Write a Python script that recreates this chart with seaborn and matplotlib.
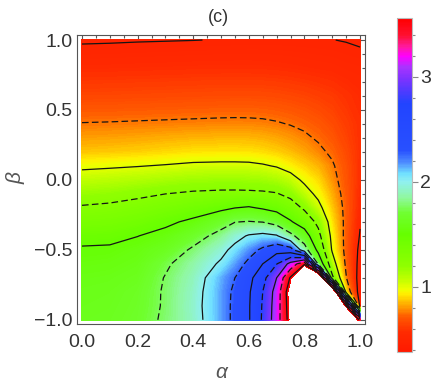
import numpy as np
import seaborn as sns
import matplotlib
matplotlib.use("Agg")
import matplotlib.pyplot as plt
from matplotlib.colors import LinearSegmentedColormap, Normalize
from matplotlib.cm import ScalarMappable
from matplotlib.ticker import MultipleLocator

sns.set_style("white")
plt.rcParams['font.family'] = ['Liberation Sans', 'DejaVu Sans']
plt.rcParams['axes.unicode_minus'] = True
plt.rcParams['lines.dashed_pattern'] = [5.3, 2.6]

# grid
alpha = [0.0, 0.1, 0.2, 0.3, 0.4, 0.5, 0.55, 0.6, 0.65, 0.7, 0.75, 0.8, 0.85, 0.9, 0.95, 1.0]
beta = [1.0, 0.8, 0.6, 0.4, 0.2, 0.1, 0.0, -0.1, -0.2, -0.3, -0.4, -0.5, -0.6, -0.7, -0.8, -0.9, -1.0]

# one list per alpha value, going down in beta (values above 3.56 are left blank)
z_a000 = [0.49, 0.56, 0.65, 0.755, 0.868, 0.973, 1.07, 1.17, 1.268, 1.357, 1.446, 1.52, 1.55, 1.58, 1.6, 1.61, 1.62]
z_a010 = [0.492, 0.562, 0.652, 0.758, 0.875, 0.983, 1.085, 1.187, 1.284, 1.37, 1.455, 1.525, 1.56, 1.59, 1.61, 1.62, 1.63]
z_a020 = [0.495, 0.565, 0.655, 0.762, 0.885, 0.995, 1.105, 1.217, 1.314, 1.405, 1.497, 1.56, 1.59, 1.62, 1.65, 1.66, 1.67]
z_a030 = [0.497, 0.567, 0.658, 0.766, 0.90, 1.01, 1.13, 1.25, 1.357, 1.465, 1.551, 1.628, 1.72, 1.76, 1.77, 1.77, 1.78]
z_a040 = [0.499, 0.57, 0.661, 0.77, 0.915, 1.028, 1.152, 1.274, 1.404, 1.536, 1.663, 1.78, 1.86, 1.9, 1.92, 1.93, 1.92]
z_a050 = [0.502, 0.572, 0.664, 0.774, 0.92, 1.033, 1.16, 1.284, 1.459, 1.663, 1.82, 1.94, 2.03, 2.13, 2.15, 2.15, 2.15]
z_a055 = [0.503, 0.572, 0.665, 0.775, 0.92, 1.033, 1.16, 1.285, 1.499, 1.745, 1.93, 2.06, 2.15, 2.25, 2.29, 2.3, 2.3]
z_a060 = [0.504, 0.572, 0.665, 0.774, 0.918, 1.03, 1.155, 1.283, 1.521, 1.76, 2.02, 2.17, 2.3, 2.43, 2.47, 2.48, 2.48]
z_a065 = [0.505, 0.57, 0.663, 0.77, 0.905, 1.015, 1.146, 1.277, 1.48, 1.745, 2.055, 2.29, 2.5, 2.67, 2.75, 2.77, 2.78]
z_a070 = [0.505, 0.567, 0.658, 0.76, 0.885, 0.99, 1.12, 1.262, 1.433, 1.667, 2.02, 2.41, 2.74, 3.0, 3.1, 3.12, 3.13]
z_a075 = [0.504, 0.562, 0.65, 0.745, 0.855, 0.94, 1.064, 1.198, 1.35, 1.52, 1.81, 2.35, 3.08, 3.53, 3.68, 3.65, 3.62]
z_a080 = [0.503, 0.556, 0.64, 0.725, 0.82, 0.89, 0.97, 1.07, 1.22, 1.39, 1.61, 1.85, 3.45, 4.5, 4.5, 4.5, 4.5]
z_a085 = [0.502, 0.55, 0.625, 0.70, 0.775, 0.84, 0.9, 0.96, 1.05, 1.2, 1.31, 1.44, 1.7, 4.5, 4.5, 4.5, 4.5]
z_a090 = [0.501, 0.545, 0.61, 0.665, 0.73, 0.765, 0.79, 0.83, 0.87, 0.91, 0.95, 0.98, 1.1, 1.3, 4.5, 4.5, 4.5]
z_a095 = [0.497, 0.535, 0.585, 0.62, 0.66, 0.68, 0.69, 0.70, 0.71, 0.71, 0.70, 0.70, 0.72, 0.76, 0.9, 3.5, 4.5]
z_a100 = [0.49, 0.53, 0.56, 0.58, 0.58, 0.575, 0.57, 0.555, 0.54, 0.51, 0.49, 0.46, 0.44, 0.42, 0.41, 0.42, 3.4]

contour_levels = [0.5, 0.75, 1.0, 1.25, 1.5, 1.75, 2.0, 2.25, 2.5, 2.75, 3.0, 3.25, 3.5]
vmin, vmax = 0.38, 3.56
cbar_ticks = [1, 2, 3]

# colour scale (value, colour) as seen on the bar
cmap_values = [0.38, 0.56, 0.71, 0.81, 0.93, 0.97, 1.07, 1.19, 1.5, 1.7, 1.85, 2.0, 2.08,
               2.18, 2.3, 2.75, 2.97, 3.1, 3.2, 3.29, 3.4, 3.56]
cmap_colors = ['#ff1a00', '#ff2a00', '#ff5a00', '#ffa000', '#ffee00', '#f0ff00', '#c0ff00',
               '#90ff00', '#66ff00', '#70ff30', '#90f8a0', '#90f0f0', '#70e0ff', '#5090ff',
               '#2850ff', '#2244ff', '#7733ff', '#aa33ff', '#ff00ff', '#ff1aa0', '#ff1030',
               '#ff0000']

z_cols = [z_a000, z_a010, z_a020, z_a030, z_a040, z_a050, z_a055, z_a060, z_a065,
          z_a070, z_a075, z_a080, z_a085, z_a090, z_a095, z_a100]
Z = np.array(z_cols).T

cmap = LinearSegmentedColormap.from_list(
    'mma', [((v - vmin) / (vmax - vmin), c) for v, c in zip(cmap_values, cmap_colors)])
norm = Normalize(vmin, vmax)

fig = plt.figure(figsize=(4.36, 3.86), dpi=100)
ax = fig.add_axes([0.1766, 0.1606, 0.6606, 0.7487])

cf = ax.contourf(alpha, beta, Z, levels=np.linspace(vmin, vmax, 600), cmap=cmap, norm=norm)
cf.set_edgecolor('face')
cf.set_linewidth(0.3)

styles = ['solid' if i % 2 == 0 else 'dashed' for i in range(len(contour_levels))]
ax.contour(alpha, beta, Z, levels=contour_levels, colors='#151515',
           linewidths=0.9, linestyles=styles)

ax.set_xlim(-0.018, 1.018)
ax.set_ylim(-1.03, 1.036)
ax.xaxis.set_major_locator(MultipleLocator(0.2))
ax.xaxis.set_minor_locator(MultipleLocator(0.05))
ax.yaxis.set_major_locator(MultipleLocator(0.5))
ax.yaxis.set_minor_locator(MultipleLocator(0.1))
ax.tick_params(which='both', direction='in', top=True, right=True, color='#555555',
               width=0.8, labelsize=14, labelcolor='#333333')
ax.tick_params(which='major', length=5)
ax.tick_params(which='minor', length=2.5)
ax.tick_params(axis='x', pad=7)
ax.tick_params(axis='y', pad=3.5)
for sp in ax.spines.values():
    sp.set_color('#555555')
    sp.set_linewidth(0.8)

# colour bar
cax = fig.add_axes([0.9106, 0.0881, 0.0344, 0.8653])
cb = fig.colorbar(ScalarMappable(norm=norm, cmap=cmap), cax=cax)
cb.set_ticks(cbar_ticks)
cb.set_ticklabels([str(t) for t in cbar_ticks])
cax.yaxis.set_minor_locator(MultipleLocator(0.2))
cax.tick_params(which='both', direction='out', right=True, color='#888888', width=0.8,
                labelsize=14, labelcolor='#333333', pad=2)
cax.tick_params(which='major', length=4)
cax.tick_params(which='minor', length=2.5)
cb.outline.set_edgecolor('#bbbbbb')
cb.outline.set_linewidth(0.8)

fig.text(218 / 436, 1 - 17 / 386, '(c)', fontsize=13, color='#333333', ha='center', va='center')
fig.text(221 / 436, 1 - 372 / 386, 'α', fontsize=15, style='italic', color='#555555',
         ha='center', va='center')
fig.text(16 / 436, 1 - 178 / 386, 'β', fontsize=15, style='italic', color='#555555',
         ha='center', va='center', rotation=90)

fig.savefig('out.png', dpi=100)
